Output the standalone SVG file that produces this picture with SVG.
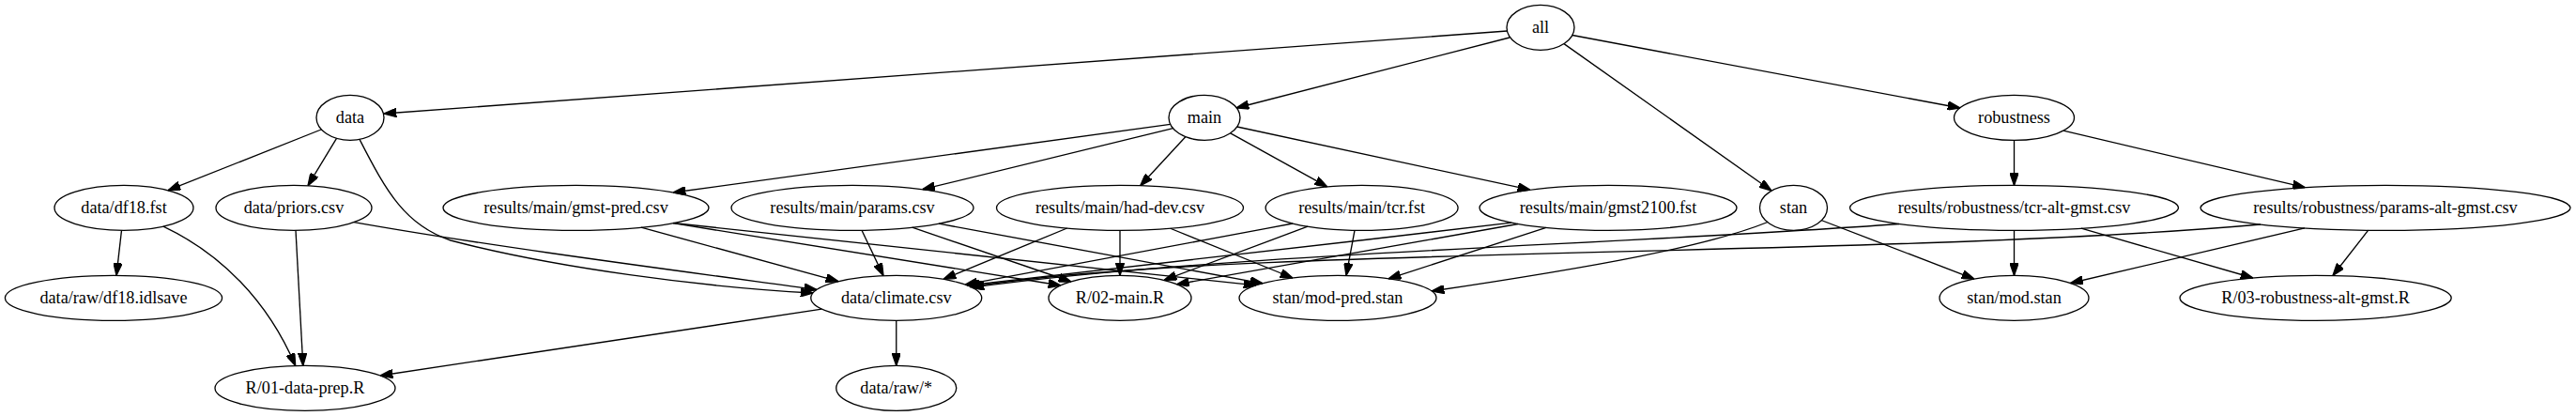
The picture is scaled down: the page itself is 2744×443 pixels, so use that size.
<svg xmlns="http://www.w3.org/2000/svg" width="2744" height="443" viewBox="0 0 2744 443">
<defs>
<marker id="arr" viewBox="0 0 10 7" refX="10" refY="3.5" markerWidth="13.33" markerHeight="9.33" markerUnits="userSpaceOnUse" orient="auto">
<path d="M0,0 L10,3.5 L0,7 z" fill="#000" stroke="#000" stroke-width="1"/>
</marker>
</defs>
<style>
.n ellipse{fill:none;stroke:#000;stroke-width:1.33}
.n text{font-family:"Liberation Serif","Times New Roman",serif;font-size:18.2px;text-anchor:middle;fill:#000}
#edges path{fill:none;stroke:#000;stroke-width:1.33;marker-end:url(#arr)}
</style>
<rect x="0" y="0" width="2744" height="443" fill="#fff"/>
<g id="edges">
<path d="M1605.4,33 L409,121"/>
<path d="M1608,40 L1317,115"/>
<path d="M1666,46.6 L1887,203"/>
<path d="M1675,37.5 L2088,115"/>
<path d="M342,138 L179,202.7"/>
<path d="M358.5,147.4 L328,197.7"/>
<path d="M383,148.4 C412,205 432,240 480,256 C590,285 750,306 866,312"/>
<path d="M129.5,245.3 L124,293.3"/>
<path d="M174,241.1 C235,270 285,320 314.7,389.5"/>
<path d="M315,245.3 L322.8,389.4"/>
<path d="M377,236.6 C520,262 720,288 870,308.4"/>
<path d="M875.4,329.2 L405,400"/>
<path d="M954.75,341.33 L954.75,389.33"/>
<path d="M1246.6,132.3 L717,205"/>
<path d="M1249.5,136.7 L982.6,201.7"/>
<path d="M1263,145.5 L1214.7,197.7"/>
<path d="M1310.7,141.8 L1413.8,198.9"/>
<path d="M1317.8,135 L1630,202.2"/>
<path d="M2145.5,149.33 L2145.5,197.33"/>
<path d="M2198,139.2 L2455.3,199.7"/>
<path d="M683,242.2 L893,299.6"/>
<path d="M717,237.7 L1130,304"/>
<path d="M717,237.5 L1338,303.9"/>
<path d="M918,245.3 L941,293.6"/>
<path d="M971.7,242.2 L1141,300"/>
<path d="M1000,238.2 L1345,301.8"/>
<path d="M1136.7,243 L1005,297.3"/>
<path d="M1193,245.33 L1193,293.33"/>
<path d="M1246.7,243.25 L1377,296"/>
<path d="M1377,238 C1250,262 1120,286 1028,303.2"/>
<path d="M1393,241.2 L1240,298.3"/>
<path d="M1443,245.3 L1434,293.4"/>
<path d="M1610,237.2 C1400,262 1150,290 1030,303.9"/>
<path d="M1617,238.5 L1253.5,302.8"/>
<path d="M1647,242.4 L1479,296.8"/>
<path d="M1883,236.5 C1820,262 1700,284 1525,310"/>
<path d="M1940,234.5 L2103,297.1"/>
<path d="M2023,238.5 C1700,262 1300,270 1035,306.2"/>
<path d="M2145.5,245.33 L2145.5,293.33"/>
<path d="M2217,243.2 L2400,296"/>
<path d="M2408,239 C2000,275 1300,262 1033,305.5"/>
<path d="M2455,242.9 L2205.5,301.5"/>
<path d="M2522.7,245.2 L2485,293.5"/>
</g>
<g id="n_all" class="n"><ellipse cx="1641" cy="29.33" rx="36" ry="24"/><text x="1641" y="34.9">all</text></g>
<g id="n_data" class="n"><ellipse cx="373" cy="125.33" rx="36" ry="24"/><text x="373" y="130.9">data</text></g>
<g id="n_main" class="n"><ellipse cx="1283" cy="125.33" rx="38" ry="24"/><text x="1283" y="130.9">main</text></g>
<g id="n_robustness" class="n"><ellipse cx="2145.5" cy="125.33" rx="64" ry="24"/><text x="2145.5" y="130.9">robustness</text></g>
<g id="n_df18" class="n"><ellipse cx="132" cy="221.33" rx="74" ry="24"/><text x="132" y="226.9">data/df18.fst</text></g>
<g id="n_priors" class="n"><ellipse cx="313" cy="221.33" rx="83" ry="24"/><text x="313" y="226.9">data/priors.csv</text></g>
<g id="n_gmstpred" class="n"><ellipse cx="613.5" cy="221.33" rx="141.5" ry="24"/><text x="613.5" y="226.9">results/main/gmst-pred.csv</text></g>
<g id="n_params" class="n"><ellipse cx="908" cy="221.33" rx="129" ry="24"/><text x="908" y="226.9">results/main/params.csv</text></g>
<g id="n_haddev" class="n"><ellipse cx="1193" cy="221.33" rx="131.5" ry="24"/><text x="1193" y="226.9">results/main/had-dev.csv</text></g>
<g id="n_tcr" class="n"><ellipse cx="1450.6" cy="221.33" rx="102.5" ry="24"/><text x="1450.6" y="226.9">results/main/tcr.fst</text></g>
<g id="n_gmst2100" class="n"><ellipse cx="1713" cy="221.33" rx="137" ry="24"/><text x="1713" y="226.9">results/main/gmst2100.fst</text></g>
<g id="n_stan" class="n"><ellipse cx="1910.5" cy="221.33" rx="36" ry="24"/><text x="1910.5" y="226.9">stan</text></g>
<g id="n_tcralt" class="n"><ellipse cx="2145.5" cy="221.33" rx="175" ry="24"/><text x="2145.5" y="226.9">results/robustness/tcr-alt-gmst.csv</text></g>
<g id="n_paramsalt" class="n"><ellipse cx="2541" cy="221.33" rx="197" ry="24"/><text x="2541" y="226.9">results/robustness/params-alt-gmst.csv</text></g>
<g id="n_idlsave" class="n"><ellipse cx="121" cy="317.33" rx="115.6" ry="24"/><text x="121" y="322.9">data/raw/df18.idlsave</text></g>
<g id="n_climate" class="n"><ellipse cx="954.75" cy="317.33" rx="91" ry="24"/><text x="954.75" y="322.9">data/climate.csv</text></g>
<g id="n_r02" class="n"><ellipse cx="1193" cy="317.33" rx="76" ry="24"/><text x="1193" y="322.9">R/02-main.R</text></g>
<g id="n_modpred" class="n"><ellipse cx="1425" cy="317.33" rx="105" ry="24"/><text x="1425" y="322.9">stan/mod-pred.stan</text></g>
<g id="n_mod" class="n"><ellipse cx="2145.5" cy="317.33" rx="79.5" ry="24"/><text x="2145.5" y="322.9">stan/mod.stan</text></g>
<g id="n_r03" class="n"><ellipse cx="2466.6" cy="317.33" rx="144.6" ry="24"/><text x="2466.6" y="322.9">R/03-robustness-alt-gmst.R</text></g>
<g id="n_r01" class="n"><ellipse cx="325" cy="413.33" rx="96" ry="24"/><text x="325" y="418.9">R/01-data-prep.R</text></g>
<g id="n_raw" class="n"><ellipse cx="954.75" cy="413.33" rx="64" ry="24"/><text x="954.75" y="418.9">data/raw/*</text></g>
</svg>
